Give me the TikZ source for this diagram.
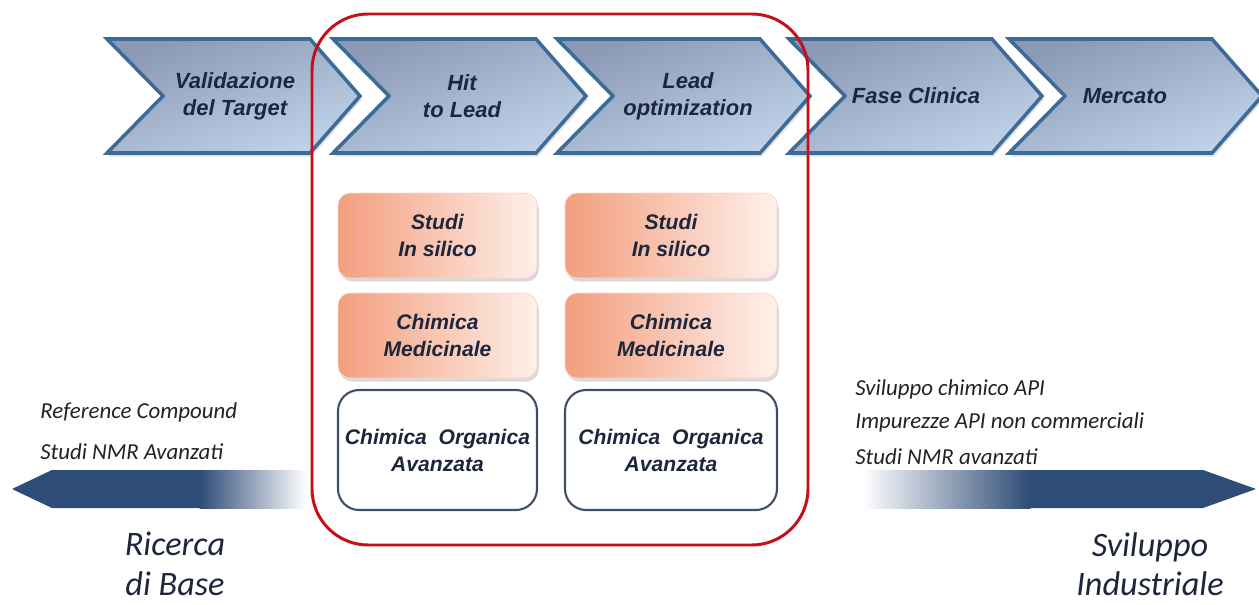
\documentclass[tikz,border=0pt]{standalone}
\usepackage{fontspec}
\setmainfont{Liberation Sans}
\newfontfamily\calibri{Carlito}
\usetikzlibrary{positioning,shadows,calc}

\definecolor{chevdark}{RGB}{138,153,180}
\definecolor{chevlight}{RGB}{192,210,234}
\definecolor{chevedge}{RGB}{62,106,152}
\definecolor{inkblue}{RGB}{28,38,60}
\definecolor{salmon}{RGB}{243,158,126}
\definecolor{salmonlight}{RGB}{254,240,234}
\definecolor{navyarrow}{RGB}{46,76,120}
\definecolor{framered}{RGB}{196,16,22}
\definecolor{boxedge}{RGB}{62,78,102}
\definecolor{notegray}{RGB}{34,34,38}

\begin{document}
\begin{tikzpicture}[x=0.02cm, y=-0.02cm,
    phase/.style={draw=chevedge, line width=2pt, line join=miter,
      top color=chevdark, bottom color=chevlight, shading angle=20,
      drop shadow={opacity=0.25, shadow xshift=1pt, shadow yshift=-2pt}},
    phaselabel/.style={text=inkblue, align=center,
      font=\bfseries\itshape\fontsize{12.5}{15.4}\selectfont},
    insilico/.style={rounded corners=7pt, left color=salmon, right color=salmonlight,
      draw=salmon!40, line width=0.4pt, inner sep=0pt, align=center, text=inkblue,
      font=\bfseries\itshape\fontsize{12}{15}\selectfont,
      drop shadow={opacity=0.3, shadow xshift=1pt, shadow yshift=-2pt}},
    organic/.style={rounded corners=12pt, draw=boxedge, line width=1.2pt, fill=white,
      inner sep=0pt, align=center, text=inkblue,
      font=\bfseries\itshape\fontsize{12}{15.4}\selectfont},
    note/.style={anchor=west, text=notegray, inner sep=0pt,
      font=\calibri\itshape\fontsize{13}{15}\selectfont},
    sector/.style={align=center, text=inkblue, inner sep=0pt,
      font=\calibri\itshape\fontsize{19.5}{22.5}\selectfont}]

  \useasboundingbox (0,0) rectangle (1259,605);

  % Phase chevrons
  \foreach \l/\tx/\nm/\txt in {107/235/target/{Validazione\\del Target},
      333/462/hit/{Hit\\to Lead}, 557/688/lead/{Lead\\optimization},
      789/916/clinica/{Fase Clinica}, 1009/1125/mercato/{Mercato}} {
    \draw[phase] (\l,39) -- ++(203,0) -- ++(50,57) -- ++(-50,57) -- ++(-203,0) -- ++(56,-57) -- cycle;
    \node[phaselabel] (\nm) at (\tx,96) {\txt};
  }

  % Activity boxes
  \foreach \cx/\w/\s in {437.5/199/a, 671/212/b} {
    \node[insilico, minimum width=\w*0.02cm, minimum height=85*0.02cm] (silico\s) at (\cx,235.5) {Studi\\In silico};
    \node[insilico, minimum width=\w*0.02cm, minimum height=85*0.02cm] (medic\s) at (\cx,335.5) {Chimica\\Medicinale};
    \node[organic, minimum width=\w*0.02cm, minimum height=120*0.02cm] (organ\s) at (\cx,450) {Chimica\ \ Organica\\Avanzata};
  }

  % Red frame
  \draw[framered, line width=1.7pt, rounded corners=32pt] (312,14) rectangle (808,545);

  % Bottom arrows
  \fill[navyarrow] (12,489) -- (52,470) -- (200,470) -- (200,508) -- (52,508) -- cycle;
  \shade[left color=navyarrow, right color=white] (199.5,470) rectangle (306,508);
  \shade[left color=white, right color=navyarrow] (862,470) rectangle (1030.5,508);
  \fill[navyarrow] (1030,470) -- (1203,470) -- (1256,489) -- (1203,508) -- (1030,508) -- cycle;

  % Notes
  \node[note] (refc) at (40,412) {Reference Compound};
  \node[note] (nmrl) at (40,452) {Studi NMR Avanzati};
  \node[note] (svil) at (855,389) {Sviluppo chimico API};
  \node[note] (impu) at (855,422) {Impurezze API non commerciali};
  \node[note] (nmrr) at (855,457) {Studi NMR avanzati};

  \node[sector] (ricerca) at (175,564) {Ricerca\\di Base};
  \node[sector] (industria) at (1150,564) {Sviluppo\\Industriale};
\end{tikzpicture}
\end{document}
